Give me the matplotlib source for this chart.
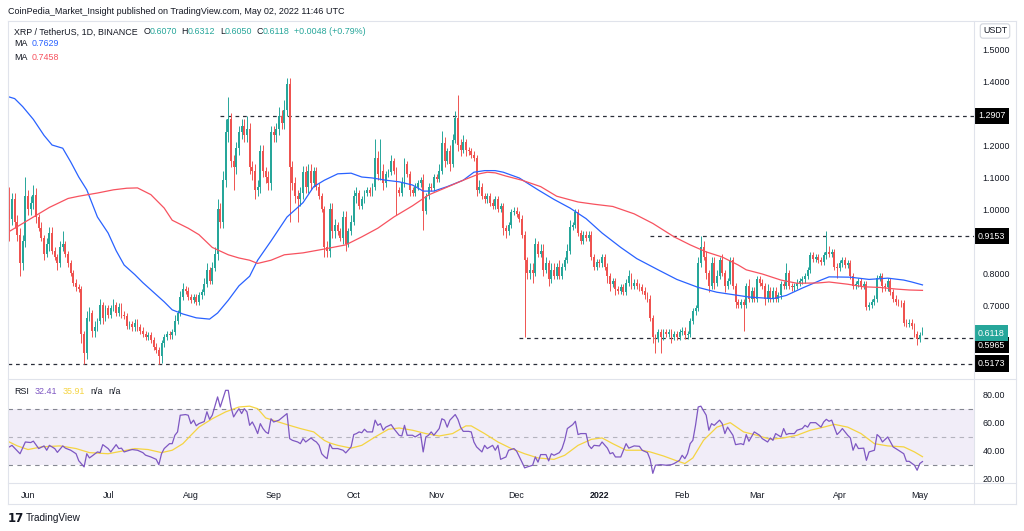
import numpy as np
import pandas as pd
import matplotlib
matplotlib.use('Agg')
import matplotlib.pyplot as plt
from matplotlib.lines import Line2D
from matplotlib.transforms import blended_transform_factory

# ---- data (daily XRP/USDT, 2021-05-25 .. 2022-05-02) ----
START_DATE = '2021-05-25'
FIRST_OPEN = 1.00

CLOSE = [
    0.97, 1.03, 0.96, 0.92, 0.83, 0.90, 1.04, 1.00, 1.02, 1.045,
    0.975, 0.94, 0.91, 0.86, 0.89, 0.925, 0.87, 0.85, 0.83, 0.88,
    0.89, 0.86, 0.83, 0.80, 0.77, 0.755, 0.75, 0.61, 0.55, 0.66,
    0.675, 0.62, 0.63, 0.65, 0.70, 0.66, 0.69, 0.67, 0.69, 0.70,
    0.675, 0.695, 0.67, 0.665, 0.635, 0.64, 0.63, 0.645, 0.63, 0.62,
    0.61, 0.60, 0.605, 0.59, 0.57, 0.56, 0.54, 0.58, 0.60, 0.61,
    0.605, 0.615, 0.65, 0.675, 0.725, 0.75, 0.745, 0.725, 0.715, 0.725,
    0.71, 0.73, 0.74, 0.765, 0.81, 0.775, 0.815, 0.86, 1.00, 0.96,
    1.09, 1.24, 1.28, 1.15, 1.13, 1.19, 1.24, 1.26, 1.23, 1.25,
    1.13, 1.12, 1.06, 1.07, 1.18, 1.12, 1.10, 1.08, 1.24, 1.23,
    1.25, 1.29, 1.27, 1.31, 1.39, 1.13, 1.08, 1.04, 1.03, 1.05,
    1.115, 1.07, 1.12, 1.08, 1.12, 1.07, 1.04, 1.00, 0.88, 0.87,
    1.00, 0.93, 0.95, 0.93, 0.91, 0.975, 0.89, 0.93, 0.96, 1.04,
    1.05, 1.01, 1.03, 1.05, 1.06, 1.05, 1.07, 1.16, 1.11, 1.12,
    1.08, 1.11, 1.115, 1.15, 1.12, 1.06, 1.05, 1.08, 1.14, 1.11,
    1.06, 1.05, 1.07, 1.08, 1.09, 0.995, 1.04, 1.07, 1.065, 1.10,
    1.095, 1.12, 1.205, 1.15, 1.18, 1.14, 1.215, 1.285, 1.20, 1.185,
    1.21, 1.185, 1.18, 1.17, 1.16, 1.06, 1.07, 1.04, 1.03, 1.04,
    1.02, 1.01, 1.03, 1.00, 1.01, 0.94, 0.93, 0.95, 0.99, 0.995,
    0.985, 0.97, 0.92, 0.84, 0.80, 0.81, 0.80, 0.89, 0.86, 0.87,
    0.81, 0.83, 0.78, 0.81, 0.79, 0.82, 0.79, 0.82, 0.84, 0.87,
    0.945, 0.95, 0.99, 0.925, 0.90, 0.92, 0.91, 0.92, 0.85, 0.82,
    0.835, 0.83, 0.85, 0.82, 0.79, 0.765, 0.775, 0.75, 0.745, 0.755,
    0.74, 0.77, 0.79, 0.76, 0.77, 0.76, 0.755, 0.745, 0.73, 0.72,
    0.66, 0.60, 0.595, 0.615, 0.60, 0.615, 0.61, 0.615, 0.60, 0.61,
    0.60, 0.615, 0.62, 0.605, 0.61, 0.65, 0.68, 0.69, 0.83, 0.88,
    0.85, 0.80, 0.76, 0.83, 0.77, 0.79, 0.84, 0.80, 0.76, 0.775,
    0.84, 0.76, 0.71, 0.70, 0.71, 0.70, 0.76, 0.72, 0.745, 0.72,
    0.78, 0.77, 0.76, 0.72, 0.745, 0.72, 0.745, 0.72, 0.73, 0.765,
    0.76, 0.80, 0.76, 0.755, 0.76, 0.77, 0.775, 0.78, 0.79, 0.81,
    0.855, 0.845, 0.85, 0.84, 0.835, 0.855, 0.865, 0.86, 0.865, 0.82,
    0.815, 0.83, 0.84, 0.825, 0.83, 0.79, 0.76, 0.765, 0.775, 0.76,
    0.765, 0.695, 0.70, 0.71, 0.72, 0.785, 0.79, 0.76, 0.755, 0.775,
    0.74, 0.72, 0.71, 0.707, 0.705, 0.645, 0.64, 0.645, 0.635, 0.61,
    0.595, 0.607, 0.6118,
]

UP_WICK = [
    0.07, 0.02, 0.02, 0.02, 0.02, 0.02, 0.06, 0.02, 0.02, 0.03,
    0.02, 0.01, 0.02, 0.01, 0.02, 0.02, 0.02, 0.01, 0.01, 0.02,
    0.04, 0.01, 0.01, 0.01, 0.01, 0.01, 0.01, 0.01, 0.01, 0.02,
    0.02, 0.01, 0.02, 0.01, 0.02, 0.01, 0.01, 0.01, 0.01, 0.02,
    0.01, 0.01, 0.01, 0.01, 0.01, 0.01, 0.01, 0.01, 0.01, 0.01,
    0.01, 0.01, 0.01, 0.01, 0.01, 0.01, 0.01, 0.01, 0.01, 0.01,
    0.01, 0.01, 0.02, 0.01, 0.02, 0.02, 0.01, 0.01, 0.01, 0.01,
    0.01, 0.01, 0.01, 0.02, 0.02, 0.01, 0.02, 0.02, 0.03, 0.02,
    0.03, 0.04, 0.07, 0.02, 0.02, 0.02, 0.02, 0.02, 0.02, 0.04,
    0.02, 0.02, 0.02, 0.02, 0.02, 0.02, 0.01, 0.02, 0.02, 0.02,
    0.02, 0.03, 0.02, 0.03, 0.02, 0.02, 0.02, 0.02, 0.02, 0.02,
    0.02, 0.02, 0.02, 0.02, 0.01, 0.01, 0.01, 0.01, 0.01, 0.02,
    0.02, 0.02, 0.02, 0.01, 0.01, 0.02, 0.02, 0.01, 0.02, 0.02,
    0.02, 0.01, 0.01, 0.01, 0.01, 0.01, 0.01, 0.06, 0.02, 0.10,
    0.02, 0.01, 0.01, 0.02, 0.01, 0.01, 0.01, 0.02, 0.02, 0.01,
    0.01, 0.01, 0.01, 0.01, 0.01, 0.02, 0.01, 0.01, 0.01, 0.01,
    0.01, 0.02, 0.04, 0.02, 0.01, 0.02, 0.02, 0.02, 0.07, 0.02,
    0.02, 0.01, 0.01, 0.01, 0.01, 0.01, 0.02, 0.01, 0.01, 0.01,
    0.01, 0.01, 0.01, 0.01, 0.01, 0.01, 0.01, 0.01, 0.01, 0.01,
    0.01, 0.01, 0.01, 0.01, 0.01, 0.02, 0.02, 0.02, 0.01, 0.02,
    0.02, 0.02, 0.01, 0.02, 0.02, 0.01, 0.02, 0.01, 0.01, 0.02,
    0.02, 0.01, 0.01, 0.01, 0.01, 0.01, 0.01, 0.01, 0.01, 0.01,
    0.01, 0.01, 0.01, 0.01, 0.01, 0.01, 0.01, 0.01, 0.01, 0.01,
    0.01, 0.01, 0.02, 0.01, 0.01, 0.01, 0.01, 0.01, 0.01, 0.01,
    0.01, 0.01, 0.01, 0.01, 0.01, 0.01, 0.01, 0.01, 0.01, 0.01,
    0.01, 0.01, 0.01, 0.01, 0.01, 0.01, 0.01, 0.01, 0.02, 0.035,
    0.02, 0.02, 0.01, 0.02, 0.02, 0.02, 0.01, 0.02, 0.01, 0.01,
    0.01, 0.01, 0.01, 0.01, 0.01, 0.01, 0.01, 0.02, 0.01, 0.01,
    0.01, 0.01, 0.01, 0.01, 0.02, 0.01, 0.01, 0.01, 0.01, 0.01,
    0.01, 0.03, 0.01, 0.01, 0.01, 0.01, 0.01, 0.01, 0.01, 0.01,
    0.01, 0.01, 0.01, 0.01, 0.01, 0.01, 0.065, 0.02, 0.01, 0.01,
    0.01, 0.01, 0.01, 0.01, 0.01, 0.01, 0.01, 0.01, 0.01, 0.01,
    0.01, 0.01, 0.01, 0.01, 0.01, 0.01, 0.01, 0.01, 0.01, 0.01,
    0.01, 0.01, 0.01, 0.01, 0.01, 0.01, 0.01, 0.01, 0.01, 0.01,
    0.01, 0.01, 0.0194,
]

DOWN_WICK = [
    0.07, 0.02, 0.02, 0.02, 0.04, 0.02, 0.02, 0.02, 0.02, 0.02,
    0.02, 0.01, 0.01, 0.02, 0.01, 0.02, 0.01, 0.01, 0.02, 0.01,
    0.01, 0.01, 0.01, 0.01, 0.01, 0.01, 0.01, 0.03, 0.033, 0.02,
    0.01, 0.02, 0.02, 0.01, 0.01, 0.02, 0.01, 0.01, 0.01, 0.01,
    0.01, 0.01, 0.01, 0.01, 0.01, 0.01, 0.01, 0.01, 0.01, 0.01,
    0.01, 0.01, 0.01, 0.01, 0.01, 0.01, 0.023, 0.02, 0.01, 0.01,
    0.01, 0.01, 0.01, 0.01, 0.01, 0.01, 0.01, 0.01, 0.01, 0.01,
    0.01, 0.01, 0.01, 0.01, 0.01, 0.01, 0.01, 0.01, 0.02, 0.02,
    0.02, 0.02, 0.03, 0.02, 0.07, 0.02, 0.02, 0.02, 0.02, 0.02,
    0.02, 0.03, 0.03, 0.02, 0.02, 0.02, 0.02, 0.02, 0.02, 0.02,
    0.02, 0.02, 0.02, 0.02, 0.02, 0.17, 0.02, 0.02, 0.07, 0.02,
    0.02, 0.02, 0.02, 0.02, 0.01, 0.01, 0.01, 0.01, 0.03, 0.02,
    0.02, 0.02, 0.02, 0.01, 0.01, 0.02, 0.02, 0.01, 0.01, 0.01,
    0.02, 0.01, 0.01, 0.01, 0.01, 0.01, 0.01, 0.01, 0.02, 0.02,
    0.02, 0.01, 0.01, 0.01, 0.01, 0.08, 0.01, 0.01, 0.01, 0.01,
    0.02, 0.01, 0.01, 0.01, 0.01, 0.06, 0.01, 0.01, 0.01, 0.01,
    0.01, 0.01, 0.01, 0.02, 0.01, 0.02, 0.01, 0.01, 0.02, 0.02,
    0.01, 0.02, 0.01, 0.01, 0.01, 0.02, 0.01, 0.01, 0.01, 0.01,
    0.01, 0.01, 0.01, 0.01, 0.01, 0.02, 0.02, 0.01, 0.01, 0.01,
    0.01, 0.01, 0.01, 0.24, 0.02, 0.02, 0.03, 0.01, 0.01, 0.01,
    0.02, 0.01, 0.02, 0.01, 0.01, 0.01, 0.01, 0.01, 0.01, 0.01,
    0.01, 0.01, 0.01, 0.01, 0.01, 0.01, 0.01, 0.01, 0.01, 0.01,
    0.01, 0.01, 0.01, 0.01, 0.02, 0.02, 0.01, 0.02, 0.01, 0.01,
    0.01, 0.01, 0.01, 0.01, 0.01, 0.01, 0.01, 0.01, 0.01, 0.01,
    0.01, 0.02, 0.045, 0.01, 0.05, 0.01, 0.01, 0.01, 0.02, 0.01,
    0.01, 0.01, 0.01, 0.01, 0.01, 0.01, 0.01, 0.01, 0.01, 0.01,
    0.01, 0.02, 0.02, 0.01, 0.02, 0.01, 0.01, 0.01, 0.02, 0.01,
    0.01, 0.01, 0.02, 0.01, 0.01, 0.08, 0.01, 0.01, 0.01, 0.01,
    0.01, 0.01, 0.01, 0.02, 0.01, 0.01, 0.01, 0.01, 0.01, 0.01,
    0.01, 0.01, 0.01, 0.01, 0.01, 0.01, 0.01, 0.01, 0.01, 0.01,
    0.01, 0.01, 0.01, 0.01, 0.01, 0.01, 0.01, 0.01, 0.01, 0.01,
    0.03, 0.01, 0.01, 0.01, 0.01, 0.01, 0.01, 0.01, 0.01, 0.01,
    0.01, 0.01, 0.01, 0.01, 0.01, 0.01, 0.01, 0.02, 0.01, 0.01,
    0.01, 0.01, 0.01, 0.01, 0.01, 0.01, 0.01, 0.01, 0.01, 0.01,
    0.02, 0.01, 0.002,
]

MA_BLUE_DAYS = [0, 2, 5, 9, 13, 16, 20, 23, 26, 29, 33, 37, 40, 43, 47, 50, 54, 58, 61, 65,
                70, 75, 78, 82, 86, 90, 93, 98, 104, 110, 114, 118, 123, 128, 132, 136, 141, 146, 151, 155,
                159, 164, 170, 174, 178, 182, 185, 191, 198, 204, 210, 216, 222, 229, 235, 243, 250, 258, 265, 273,
                277, 286, 291, 297, 304, 307, 315, 322, 329, 335, 338, 342]
MA_BLUE = [1.35, 1.345, 1.32, 1.28, 1.23, 1.20, 1.19, 1.147, 1.10, 1.06,
           0.975, 0.925, 0.87, 0.825, 0.795, 0.77, 0.74, 0.71, 0.685, 0.672,
           0.66, 0.656, 0.675, 0.715, 0.76, 0.79, 0.84, 0.90, 0.975, 1.02,
           1.07, 1.09, 1.11, 1.112, 1.10, 1.097, 1.09, 1.085, 1.075, 1.056,
           1.056, 1.07, 1.09, 1.115, 1.12, 1.12, 1.115, 1.097, 1.06, 1.03,
           1.003, 0.97, 0.925, 0.88, 0.845, 0.81, 0.78, 0.755, 0.74, 0.73,
           0.725, 0.72, 0.73, 0.753, 0.778, 0.788, 0.787, 0.78, 0.784, 0.778,
           0.772, 0.7629]

MA_RED_DAYS = [0, 4, 9, 15, 22, 26, 33, 39, 44, 48, 53, 58, 61, 67, 71, 76, 82, 86, 90, 93,
               98, 103, 110, 118, 126, 132, 138, 144, 151, 157, 163, 170, 176, 179, 182, 186, 192, 199, 205, 213,
               219, 226, 234, 241, 249, 255, 261, 267, 273, 276, 282, 289, 295, 303, 307, 314, 320, 326, 332, 337,
               342]
MA_RED = [0.93, 0.95, 0.975, 1.005, 1.033, 1.04, 1.05, 1.06, 1.065, 1.066,
          1.045, 1.003, 0.965, 0.94, 0.92, 0.88, 0.857, 0.847, 0.84, 0.83,
          0.84, 0.857, 0.863, 0.875, 0.888, 0.913, 0.94, 0.975, 1.01, 1.044,
          1.065, 1.09, 1.11, 1.115, 1.113, 1.103, 1.09, 1.07, 1.04, 1.022,
          1.015, 1.008, 0.985, 0.955, 0.913, 0.888, 0.866, 0.85, 0.825, 0.81,
          0.797, 0.778, 0.768, 0.769, 0.772, 0.765, 0.757, 0.755, 0.75, 0.747,
          0.7458]

RSI_POINTS = [
    (0, 42.9), (1, 44), (4, 38), (6, 46.4), (8, 46), (9, 47), (11, 41.7), (13, 43.6), (14, 40.5), (15, 44),
    (17, 41.7), (18, 39), (20, 43.6), (21, 42), (23, 40.5), (25, 38), (26, 33), (28, 28.6), (29, 38), (30, 35),
    (31, 36.4), (33, 39.3), (34, 38.8), (35, 44.5), (37, 41.7), (38, 39.3), (40, 44.5), (41, 41.7), (42, 42), (43, 39.3),
    (45, 40.5), (46, 41), (48, 40.5), (50, 38.8), (51, 37), (53, 35.7), (55, 34), (56, 30.2), (57, 38), (58, 41.7),
    (60, 45.2), (61, 45.2), (62, 51.2), (63, 53.6), (64, 65.5), (66, 66), (67, 65.5), (68, 59.5), (69, 62), (70, 58),
    (71, 59.5), (73, 61), (74, 68), (75, 62.6), (76, 65.5), (78, 78.6), (79, 71.4), (80, 77.4), (81, 83.3), (82, 83.3),
    (83, 71.4), (84, 64.3), (85, 67.4), (86, 70.2), (87, 66.7), (88, 70.2), (89, 67.9), (90, 58.3), (91, 60.7), (92, 57),
    (93, 52.4), (94, 59.5), (95, 56), (96, 53.6), (97, 52.4), (98, 63), (99, 60.7), (101, 62), (102, 63.6), (104, 66.7),
    (105, 48.8), (106, 47.6), (108, 46.4), (109, 45.2), (110, 48.8), (111, 46.4), (113, 49.3), (114, 47.6), (115, 46.4), (116, 44),
    (117, 38), (118, 36), (119, 34.5), (120, 45), (121, 41.7), (123, 41.7), (125, 40.5), (126, 38.6), (128, 42.9), (129, 51.7),
    (130, 52.4), (131, 53.6), (132, 53), (133, 55.5), (134, 53.6), (136, 53.6), (137, 62), (138, 58.3), (139, 59.5), (140, 54.8),
    (141, 57), (143, 58.8), (144, 56), (146, 51.2), (147, 50.7), (148, 58.3), (149, 51.2), (151, 51.2), (152, 50), (154, 52.4),
    (155, 39.3), (156, 50), (157, 51.2), (158, 53.6), (159, 51.2), (161, 56), (162, 63), (163, 62), (164, 57), (165, 62),
    (167, 66), (168, 62.6), (169, 57), (170, 54), (172, 54), (173, 53.6), (174, 46.4), (175, 42.9), (177, 39.3), (178, 44),
    (179, 41.7), (181, 44), (182, 40.5), (183, 44), (184, 34), (186, 35.7), (187, 40.5), (189, 41.7), (190, 39.8), (192, 32),
    (193, 27.9), (194, 28.6), (196, 29.8), (197, 35.7), (198, 32), (199, 37.4), (201, 37.4), (202, 32.9), (203, 38), (204, 36.9),
    (206, 38.8), (207, 41.7), (208, 47.6), (209, 56), (211, 58.8), (212, 61.2), (213, 51.7), (214, 52.4), (216, 52.4), (217, 44),
    (218, 41.7), (219, 44), (221, 43.6), (222, 46.4), (224, 42), (225, 38), (226, 38.8), (227, 35.7), (229, 35.7), (231, 45.2),
    (232, 42), (234, 43.6), (236, 43.3), (237, 40.5), (239, 38.8), (240, 34), (241, 24), (242, 29.8), (244, 30.2), (246, 29.8),
    (248, 30.2), (249, 31), (251, 33.3), (252, 36.9), (253, 34.5), (254, 38), (255, 45.2), (256, 47.6), (257, 58.3), (258, 71.4),
    (259, 72), (261, 65.5), (262, 54.8), (263, 59.5), (264, 58.3), (266, 62), (267, 59.5), (268, 52.4), (269, 57), (271, 51.2),
    (272, 44.5), (274, 45.2), (275, 44.5), (276, 51.7), (277, 46.9), (279, 53.6), (280, 52.4), (281, 51.2), (282, 48.8), (284, 46.4),
    (285, 49.3), (286, 47.6), (287, 52.4), (289, 50), (290, 56), (291, 51.7), (292, 52.4), (294, 52.4), (295, 54.8), (297, 56),
    (298, 58.3), (299, 57), (300, 60.2), (302, 60.2), (304, 57), (305, 60.7), (306, 62.6), (307, 61.2), (308, 62), (310, 51.7),
    (311, 53.6), (312, 56), (314, 51.2), (315, 49.3), (316, 40.5), (317, 45.2), (318, 41.7), (320, 42), (321, 33.3), (322, 39.3),
    (324, 40.5), (325, 51.7), (326, 50), (327, 46.4), (329, 50), (330, 46.4), (331, 42.9), (333, 40.5), (335, 38), (336, 32.6),
    (337, 32.6), (339, 29.8), (340, 26.2), (341, 31), (342, 32.41),
]

RSI_MA_POINTS = [
    (0, 46.4), (3, 43.6), (7, 41), (12, 42.9), (19, 43.6), (25, 41.7), (30, 38.8), (37, 38), (42, 39.8), (47, 41.7),
    (52, 41), (57, 38.8), (61, 40.5), (65, 45.2), (68, 51.2), (71, 57), (76, 63), (81, 67.9), (86, 71.4), (90, 72),
    (93, 70.2), (96, 63.6), (100, 61.2), (104, 58.8), (109, 56), (114, 53.6), (118, 47.5), (120, 45.7), (123, 44), (128, 42),
    (132, 44), (137, 50), (142, 55.5), (146, 56.4), (151, 54.8), (156, 52.4), (161, 50.7), (166, 52.4), (171, 57.9), (173, 57.9),
    (178, 52.4), (183, 46.4), (188, 41.7), (193, 38), (198, 35), (204, 34), (208, 36.9), (213, 44), (218, 48.3), (222, 49.3),
    (226, 45.2), (231, 40.5), (237, 40.5), (240, 39.3), (245, 36.4), (250, 32.9), (253, 31), (256, 35), (260, 47.6), (265, 57),
    (270, 60.2), (275, 53.6), (280, 51.2), (285, 48.3), (290, 49.3), (295, 51.2), (300, 54.8), (305, 57), (309, 59), (314, 57),
    (319, 52.4), (324, 45.2), (329, 43.6), (335, 42.9), (339, 39.3), (342, 35.91),
]

# support / resistance lines: price and the candle where the drawing starts
LEVELS = [1.2907, 0.9153, 0.5965, 0.5173]
LEVEL_START = [79, 240, 191, -0.5]

PRICE_TICKS = [0.7, 0.8, 1.0, 1.1, 1.2, 1.4, 1.5]
RSI_TICKS = [20, 40, 60, 80]
RSI_BANDS = [70, 50, 30]
MONTHS = ['2021-06-01', '2021-07-01', '2021-08-01', '2021-09-01', '2021-10-01', '2021-11-01',
          '2021-12-01', '2022-01-01', '2022-02-01', '2022-03-01', '2022-04-01', '2022-05-01']
MONTH_LABELS = ['Jun', 'Jul', 'Aug', 'Sep', 'Oct', 'Nov', 'Dec', '2022', 'Feb', 'Mar', 'Apr', 'May']

HEADER = 'CoinPedia_Market_Insight published on TradingView.com, May 02, 2022 11:46 UTC'

# ---- style ----
W, H, DPI = 1024, 531, 100
TEXT = '#131722'
BORDER = '#e0e3eb'
UP = '#26a69a'
DOWN = '#ef5350'
BLUE = '#2962ff'
RED = '#f7525f'
PURPLE = '#7e57c2'
YELLOW = '#f5d442'
FS = 6.4

plt.rcParams['font.family'] = ['Liberation Sans', 'DejaVu Sans']


def fx(px):
    return px / W


def fy(py):
    return 1 - py / H


fig = plt.figure(figsize=(W / DPI, H / DPI), dpi=DPI)
fig.patch.set_facecolor('white')

ax = fig.add_axes([fx(8), fy(378), fx(974) - fx(8), fy(21) - fy(378)])
ax_rsi = fig.add_axes([fx(8), fy(483), fx(974) - fx(8), fy(379) - fy(483)], sharex=ax)

# ---- candles ----
close = np.array(CLOSE)
open_ = np.r_[FIRST_OPEN, close[:-1]]
high = np.maximum(open_, close) + np.array(UP_WICK)
low = np.minimum(open_, close) - np.array(DOWN_WICK)
days = np.arange(len(close))
colors = np.where(close >= open_, UP, DOWN)

ax.vlines(days, low, high, colors=colors, lw=0.7, zorder=3)
ax.bar(days, np.maximum(np.abs(close - open_), 0.002), bottom=np.minimum(open_, close),
       width=0.7, color=colors, linewidth=0, zorder=3)

ax.plot(MA_BLUE_DAYS, MA_BLUE, color=BLUE, lw=0.9, zorder=4)
ax.plot(MA_RED_DAYS, MA_RED, color=RED, lw=0.9, zorder=4)

XMIN, XMAX = -0.5, 361.3
for lvl, x0 in zip(LEVELS, LEVEL_START):
    ax.hlines(lvl, x0, XMAX, colors='#2a2e39', lw=0.9, linestyles=(0, (3, 3)), zorder=2)

ax.set_xlim(XMIN, XMAX)
ax.set_ylim(0.472, 1.5875)
ax.yaxis.tick_right()
ax.set_yticks(PRICE_TICKS)
ax.set_yticklabels([f'{v:.4f}' for v in PRICE_TICKS])
ax.tick_params(axis='y', length=0, pad=6, labelsize=FS, colors=TEXT)
ax.tick_params(axis='x', length=0, labelbottom=False)
for s in ax.spines.values():
    s.set_visible(False)

# price labels on the right scale
trans = blended_transform_factory(ax.transAxes, ax.transData)
price_boxes = [(1.2907, 'black', 0), (0.9153, 'black', 0), (0.5173, 'black', 0),
               (0.5965, 'black', -7), (close[-1], UP, 0)]
for val, fc, dy in price_boxes:
    ax.annotate(f'{val:.4f}', xy=(1, val), xycoords=trans, xytext=(4, dy),
                textcoords='offset pixels', ha='left', va='center', color='white',
                fontsize=FS, annotation_clip=False, zorder=10,
                bbox=dict(boxstyle='square,pad=0.4', fc=fc, ec='none'))

fig.text(fx(995), fy(31), 'USDT', fontsize=FS, color=TEXT, ha='center', va='center',
         bbox=dict(boxstyle='round,pad=0.3,rounding_size=0.3', fc='white', ec='#d1d4dc', lw=0.8))

# ---- RSI pane ----
rsi_days, rsi_vals = zip(*RSI_POINTS)
rsi_ma_days, rsi_ma_vals = zip(*RSI_MA_POINTS)
ax_rsi.axhspan(RSI_BANDS[2], RSI_BANDS[0], color=PURPLE, alpha=0.1, lw=0, zorder=1)
for b in RSI_BANDS:
    ax_rsi.axhline(b, color='#787b86', lw=0.8, ls=(0, (4, 4)), alpha=0.5 if b == 50 else 0.9, zorder=2)
ax_rsi.plot(rsi_ma_days, rsi_ma_vals, color=YELLOW, lw=0.9, zorder=3)
ax_rsi.plot(rsi_days, rsi_vals, color=PURPLE, lw=0.9, zorder=4)
ax_rsi.set_ylim(17.1, 91.4)
ax_rsi.yaxis.tick_right()
ax_rsi.set_yticks(RSI_TICKS)
ax_rsi.set_yticklabels([f'{v:.2f}' for v in RSI_TICKS])
ax_rsi.tick_params(axis='y', length=0, pad=6, labelsize=FS, colors=TEXT)

start = pd.Timestamp(START_DATE)
month_pos = [(pd.Timestamp(m) - start).days for m in MONTHS]
ax_rsi.set_xticks(month_pos)
ax_rsi.set_xticklabels(MONTH_LABELS)
ax_rsi.tick_params(axis='x', length=0, pad=6, labelsize=FS, colors=TEXT)
for lab in ax_rsi.get_xticklabels():
    if lab.get_text() == '2022':
        lab.set_fontweight('bold')
for s in ax_rsi.spines.values():
    s.set_visible(False)

# ---- frame ----
frame = [(8, 1016, 21, 21), (8, 1016, 504, 504), (8, 8, 21, 504), (1016, 1016, 21, 504),
         (974, 974, 21, 504), (8, 1016, 378.5, 378.5), (8, 1016, 483, 483)]
for x0, x1, y0, y1 in frame:
    fig.add_artist(Line2D([fx(x0), fx(x1)], [fy(y0), fy(y1)], color=BORDER, lw=0.8))


# ---- legends ----
def text_chain(host, parts, x, y):
    first, color = parts[0]
    prev = host.text(fx(x), fy(y), first, color=color, fontsize=FS, ha='left', va='center',
                     transform=fig.transFigure, zorder=6)
    for s, c, gap in parts[1:]:
        prev = host.annotate(s, xy=(1, 0.5), xycoords=prev, xytext=(gap, 0),
                             textcoords='offset points', ha='left', va='center',
                             color=c, fontsize=FS, annotation_clip=False, zorder=6)


fig.text(fx(8), fy(11), HEADER, fontsize=6.5, color=TEXT, ha='left', va='center')
text_chain(ax, [('XRP / TetherUS, 1D, BINANCE', TEXT), ('O', TEXT, 4), ('0.6070', UP, 0),
                ('H', TEXT, 3), ('0.6312', UP, 0), ('L', TEXT, 3), ('0.6050', UP, 0),
                ('C', TEXT, 3), ('0.6118', UP, 0), ('+0.0048 (+0.79%)', UP, 3)], 14, 32)
text_chain(ax, [('MA', TEXT), ('0.7629', BLUE, 3)], 14, 44)
text_chain(ax, [('MA', TEXT), ('0.7458', RED, 3)], 14, 57)
text_chain(ax_rsi, [('RSI', TEXT), ('32.41', PURPLE, 4), ('35.91', YELLOW, 4),
                    ('n/a', TEXT, 4), ('n/a', TEXT, 4)], 14, 392)

fig.text(fx(8), fy(518), '17', fontsize=8.5, fontweight='heavy', family='DejaVu Sans',
         color=TEXT, ha='left', va='center')
fig.text(fx(26), fy(518), 'TradingView', fontsize=7.2, color=TEXT, ha='left', va='center')

fig.savefig('out.png', dpi=DPI)
